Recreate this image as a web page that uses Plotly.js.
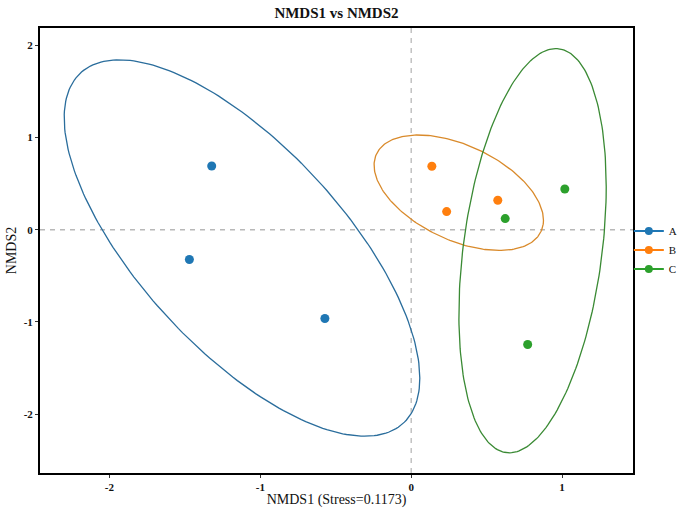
<!DOCTYPE html>
<html><head><meta charset="utf-8">
<script src="https://cdn.plot.ly/plotly-3.0.1.min.js"></script>
<style>html,body{margin:0;padding:0;background:#fff}#c{width:685px;height:511px}</style>
</head><body><div id="c"></div>
<script>
const groups = ['A','B','C'];
const groupX = {A: [-1.322, -1.470, -0.572], B: [0.137, 0.235, 0.574], C: [0.623, 1.018, 0.772]};
const groupY = {A: [0.692, -0.323, -0.963], B: [0.689, 0.197, 0.320], C: [0.121, 0.443, -1.245]};
const pointColors = {A: '#1f77b4', B: '#ff7f0e', C: '#2ca02c'};
const lineColors = {A: '#2a6d9c', B: '#d98a2b', C: '#3a8a34'};
const chi2_95 = 5.991;

function ellipse(xs, ys) {
  const n = xs.length;
  const mx = xs.reduce((a,b)=>a+b,0)/n, my = ys.reduce((a,b)=>a+b,0)/n;
  let sxx=0, syy=0, sxy=0;
  for (let i=0;i<n;i++){const dx=xs[i]-mx, dy=ys[i]-my; sxx+=dx*dx; syy+=dy*dy; sxy+=dx*dy;}
  sxx/=(n-1); syy/=(n-1); sxy/=(n-1);
  const l11=Math.sqrt(sxx), l21=sxy/l11, l22=Math.sqrt(syy-l21*l21);
  const r=Math.sqrt(chi2_95);
  const ex=[], ey=[];
  for (let k=0;k<=240;k++){
    const t=2*Math.PI*k/240, c=Math.cos(t), s=Math.sin(t);
    ex.push(mx + r*l11*c);
    ey.push(my + r*(l21*c + l22*s));
  }
  return [ex, ey];
}

const traces = [];
groups.forEach(g => {
  const [ex, ey] = ellipse(groupX[g], groupY[g]);
  traces.push({x: ex, y: ey, mode: 'lines', line: {color: lineColors[g], width: 1.3}, showlegend: false, hoverinfo: 'skip'});
});
groups.forEach(g => {
  traces.push({x: groupX[g], y: groupY[g], mode: 'markers', name: g, marker: {color: pointColors[g], size: 9}, showlegend: false});
  traces.push({x: [null], y: [null], mode: 'lines+markers', name: g, marker: {color: pointColors[g], size: 8}, line: {color: pointColors[g], width: 2}});
});

const font = 'Liberation Serif, Times New Roman, serif';
const layout = {
  width: 685, height: 511,
  margin: {l: 40, r: 52, t: 28, b: 38, autoexpand: false},
  paper_bgcolor: '#fff', plot_bgcolor: '#fff',
  title: {text: 'NMDS1 vs NMDS2', font: {family: font, size: 15, color: '#111', weight: 'bold'}, x: 0.4912, xanchor: 'center', y: 0.975, yanchor: 'middle'},
  xaxis: {range: [-2.46, 1.47], tickvals: [-2,-1,0,1], ticktext: ['-2','-1','0','1'], showgrid: false, zeroline: false,
    showline: true, mirror: true, linecolor: '#000', linewidth: 2, ticks: 'outside', ticklen: 3, tickcolor: '#333', tickwidth: 1,
    tickfont: {family: font, size: 11, color: '#111', weight: 'bold'},
    title: {text: 'NMDS1 (Stress=0.1173)', font: {family: font, size: 14, color: '#111'}, standoff: 2}},
  yaxis: {range: [-2.64, 2.19], tickvals: [-2,-1,0,1,2], ticktext: ['-2','-1','0','1','2'], showgrid: false, zeroline: false,
    showline: true, mirror: true, linecolor: '#000', linewidth: 2, ticks: 'outside', ticklen: 3, tickcolor: '#333', tickwidth: 1,
    tickfont: {family: font, size: 11, color: '#111', weight: 'bold'},
    title: {text: 'NMDS2', font: {family: font, size: 14, color: '#111'}, standoff: 4}},
  shapes: [
    {type: 'line', xref: 'x', yref: 'paper', x0: 0, x1: 0, y0: 0, y1: 1, line: {color: '#b8b8b8', width: 1.3, dash: '5px,5px'}, layer: 'below'},
    {type: 'line', xref: 'paper', yref: 'y', x0: 0, x1: 1, y0: 0, y1: 0, line: {color: '#b8b8b8', width: 1.3, dash: '5px,5px'}, layer: 'below'}
  ],
  legend: {xref: 'container', x: 0.918, xanchor: 'left', yref: 'container', y: 0.511, yanchor: 'middle', font: {family: font, size: 11, color: '#111'}, bgcolor: 'rgba(0,0,0,0)', itemwidth: 30, tracegroupgap: 0},
  showlegend: true
};
Plotly.newPlot('c', traces, layout, {displayModeBar: false});
</script></body></html>
